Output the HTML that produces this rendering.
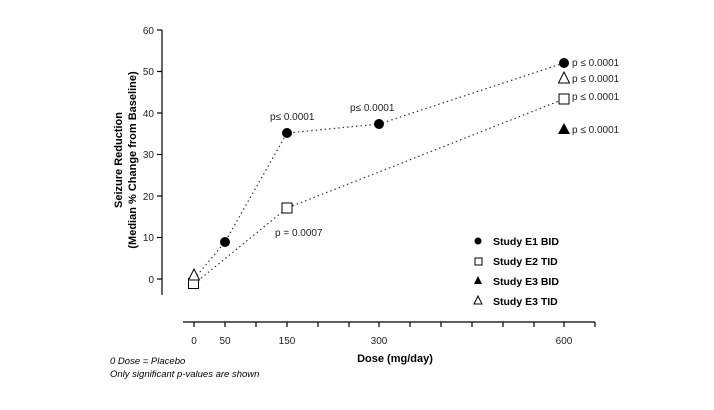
<!DOCTYPE html><html><head><style>body{margin:0;background:#fff}svg{display:block}text{font-family:"Liberation Sans",Arial,sans-serif}</style></head><body>
<svg width="714" height="410" viewBox="0 0 714 410">
<g stroke="#000" stroke-width="1.2" fill="none">
<line x1="162" y1="30" x2="162" y2="295"/>
<line x1="157" y1="30" x2="162" y2="30"/><line x1="157" y1="71.5" x2="162" y2="71.5"/><line x1="157" y1="113" x2="162" y2="113"/><line x1="157" y1="154.5" x2="162" y2="154.5"/><line x1="157" y1="196" x2="162" y2="196"/><line x1="157" y1="237.5" x2="162" y2="237.5"/><line x1="157" y1="279" x2="162" y2="279"/>
<line x1="183" y1="322" x2="595" y2="322"/>
<path d="M194 322v5M225 322v5M256 322v5M287 322v5M318 322v5M349 322v5M379 322v5M410 322v5M441 322v5M472 322v5M503 322v5M534 322v5M564 322v5M595 322v5"/>
</g>
<g font-size="10" text-anchor="end" fill="#222"><text x="154" y="34">60</text><text x="154" y="75">50</text><text x="154" y="117">40</text><text x="154" y="158">30</text><text x="154" y="200">20</text><text x="154" y="241">10</text><text x="154" y="283">0</text></g>
<g font-size="10" text-anchor="middle" fill="#222"><text x="194" y="344">0</text><text x="225" y="344">50</text><text x="287" y="344">150</text><text x="379" y="344">300</text><text x="564" y="344">600</text></g>
<text x="395" y="362" font-size="11" font-weight="bold" text-anchor="middle">Dose (mg/day)</text>
<text transform="translate(122,160) rotate(-90)" font-size="11" font-weight="bold" text-anchor="middle">Seizure Reduction</text>
<text transform="translate(136,160) rotate(-90)" font-size="11" font-weight="bold" text-anchor="middle">(Median % Change from Baseline)</text>
<text x="110" y="364" font-size="9.5" font-style="italic">0 Dose = Placebo</text>
<text x="110" y="377" font-size="9.5" font-style="italic">Only significant p-values are shown</text>
<g stroke="#333" stroke-width="1.2" stroke-dasharray="1.5,3" fill="none">
<polyline points="194,279 225,242 287,133 379,124 564,63"/>
<polyline points="194,284 287,208 379,172 564,99"/>
</g>
<g fill="#000"><circle cx="225" cy="242" r="5"/><circle cx="287" cy="133" r="5"/><circle cx="379" cy="124" r="5"/><circle cx="564" cy="63" r="5"/>
<polygon points="564,123 558,134 570,134"/></g>
<g fill="#fff" stroke="#000" stroke-width="1"><rect x="188.5" y="278.5" width="10" height="10"/><rect x="282" y="203" width="10" height="10"/><rect x="559" y="94" width="10" height="10"/>
<polygon points="194,269 188.5,280 199.5,280"/><polygon points="564,72 558.5,83 569.5,83"/></g>
<g font-size="10" fill="#222"><text x="270" y="120">p≤ 0.0001</text><text x="350" y="111">p≤ 0.0001</text><text x="275" y="236">p = 0.0007</text>
<text x="572" y="66">p ≤ 0.0001</text><text x="572" y="82">p ≤ 0.0001</text><text x="572" y="100">p ≤ 0.0001</text><text x="572" y="133">p ≤ 0.0001</text></g>
<g font-size="10.5" font-weight="bold"><text x="493" y="245">Study E1 BID</text><text x="493" y="265">Study E2 TID</text><text x="493" y="285">Study E3 BID</text><text x="493" y="305">Study E3 TID</text></g>
<circle cx="478" cy="241" r="3.5"/><rect x="475" y="258" width="7" height="7" fill="#fff" stroke="#000"/><polygon points="478,276 474,284 482,284"/><polygon points="478,296 474,304 482,304" fill="#fff" stroke="#000"/>
</svg></body></html>
